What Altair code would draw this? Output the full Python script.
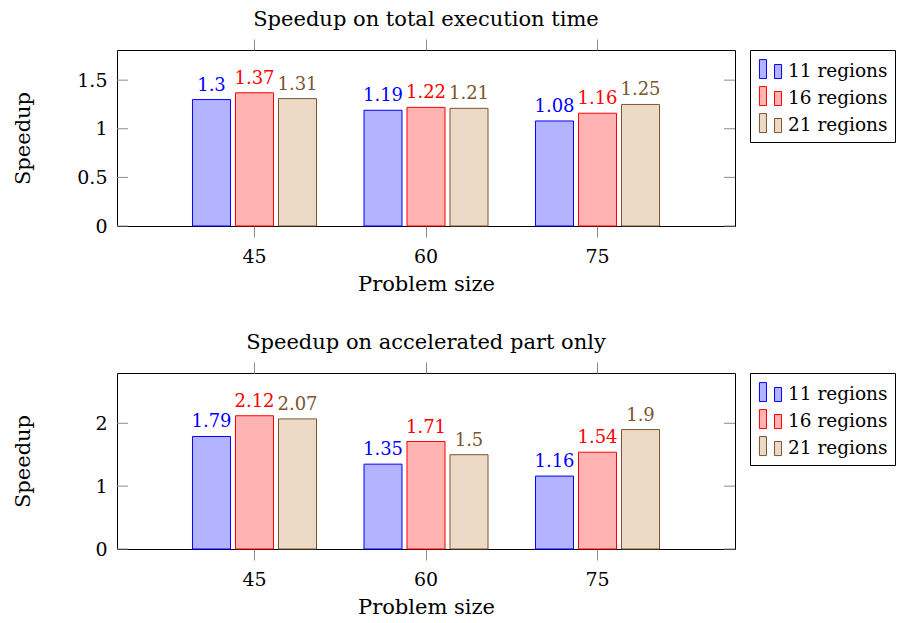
import altair as alt
import pandas as pd

sizes = ["45", "60", "75"]
regions = ["11 regions", "16 regions", "21 regions"]

total_11 = [1.30, 1.19, 1.08]
total_16 = [1.37, 1.22, 1.16]
total_21 = [1.31, 1.21, 1.25]

accel_11 = [1.79, 1.35, 1.16]
accel_16 = [2.12, 1.71, 1.54]
accel_21 = [2.07, 1.50, 1.90]

total_ticks = [0, 0.5, 1, 1.5]
accel_ticks = [0, 1, 2]

fill_colors = ["#b3b3ff", "#ffb3b3", "#ecd9c6"]
line_colors = ["#0000ff", "#ff0000", "#7a5530"]
tick_color = "#8c8c8c"

FONT = "DejaVu Serif"
W, H = 618, 176

# legend glyph: two small bars side by side (unit square coordinates)
LEGEND_GLYPH = ("M-0.85,-0.84H-0.31V0.62H-0.85Z "
                "M0.31,-0.46H0.85V0.62H0.31Z")


def long_table(series):
    rows = []
    for reg, vals in zip(regions, series):
        for s, v in zip(sizes, vals):
            rows.append({"size": s, "regions": reg, "value": v})
    return pd.DataFrame(rows)


def panel(title, series, ymax, tick_values):
    df = long_table(series)
    tdf = pd.DataFrame({"value": tick_values})

    xscale = alt.Scale(domain=sizes, paddingInner=0, paddingOuter=0.3017)
    xoscale = alt.Scale(domain=regions, paddingInner=0.116, paddingOuter=0.552)
    yscale = alt.Scale(domain=[0, ymax], nice=False, zero=True)
    yaxis = alt.Axis(orient="left", title="Speedup", values=tick_values, format="~g",
                     ticks=False, domain=False, grid=False,
                     labelPadding=10, labelFontSize=19,
                     titleFontSize=21, titlePadding=0,
                     minExtent=84, maxExtent=84)

    bars = alt.Chart(df).mark_bar(strokeWidth=1).encode(
        x=alt.X("size:N", scale=xscale,
                axis=alt.Axis(orient="bottom", title="Problem size", labelAngle=0,
                              tickSize=11, tickColor=tick_color, domain=False,
                              labelPadding=10, titlePadding=7,
                              labelFontSize=19, titleFontSize=21)),
        xOffset=alt.XOffset("regions:N", scale=xoscale),
        y=alt.Y("value:Q", scale=yscale, axis=yaxis),
        fill=alt.Fill("regions:N", scale=alt.Scale(domain=regions, range=fill_colors),
                      legend=alt.Legend(title=None)),
        stroke=alt.Stroke("regions:N", scale=alt.Scale(domain=regions, range=line_colors),
                          legend=alt.Legend(title=None)),
    )

    labels = alt.Chart(df).mark_text(baseline="alphabetic", dy=-9, font=FONT,
                                     fontSize=18).encode(
        x=alt.X("size:N", scale=xscale,
                axis=alt.Axis(orient="top", labels=False, title=None, tickSize=11,
                              tickColor=tick_color, domain=False)),
        xOffset=alt.XOffset("regions:N", scale=xoscale),
        y=alt.Y("value:Q", scale=yscale, axis=yaxis),
        text=alt.Text("value:Q", format="~g"),
        color=alt.Color("regions:N", scale=alt.Scale(domain=regions, range=line_colors),
                        legend=None),
    )

    left_ticks = alt.Chart(tdf).mark_rule(color=tick_color, strokeWidth=1).encode(
        y=alt.Y("value:Q", scale=yscale, axis=yaxis),
        x=alt.value(0), x2=alt.value(11),
    )
    right_ticks = alt.Chart(tdf).mark_rule(color=tick_color, strokeWidth=1).encode(
        y=alt.Y("value:Q", scale=yscale, axis=yaxis),
        x=alt.value(W - 11), x2=alt.value(W),
    )

    return alt.layer(bars, labels, left_ticks, right_ticks).resolve_axis(
        x="independent"
    ).properties(
        width=W, height=H,
        title=alt.Title(title, fontSize=21, font=FONT, fontWeight="normal", offset=9),
    )


top = panel("Speedup on total execution time", [total_11, total_16, total_21], 1.81, total_ticks)
bottom = panel("Speedup on accelerated part only", [accel_11, accel_16, accel_21], 2.8, accel_ticks)

chart = alt.vconcat(top, bottom, spacing=36).resolve_legend(
    fill="independent", stroke="independent"
).properties(
    padding={"left": 3, "top": 0, "right": 0, "bottom": 0}
).configure_view(
    stroke="black", strokeWidth=1
).configure_axis(
    labelFont=FONT, titleFont=FONT, labelColor="black", titleColor="black",
    titleFontWeight="normal"
).configure_title(
    font=FONT, fontWeight="normal", color="black", anchor="middle"
).configure_legend(
    orient="right", offset=15, padding=7, strokeColor="black", strokeWidth=1,
    fillColor="white", cornerRadius=0, labelFont=FONT, labelFontSize=18.5,
    labelColor="black", labelOffset=4, rowPadding=3, symbolType=LEGEND_GLYPH,
    symbolSize=676, symbolStrokeWidth=1, labelLimit=300
)

chart.save("out.html", embed_options={"renderer": "svg", "actions": False})
